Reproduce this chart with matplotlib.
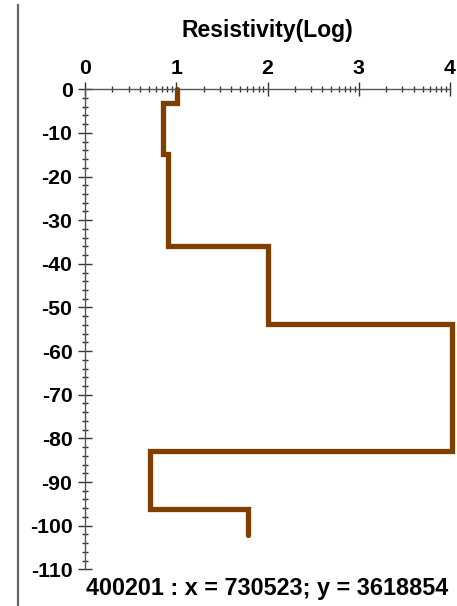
import numpy as np
import matplotlib
matplotlib.use("Agg")
import matplotlib.pyplot as plt
from matplotlib.ticker import FixedLocator, MultipleLocator
from matplotlib.lines import Line2D

# Layer model: log10 resistivity per layer and layer boundary depths (m)
log_resistivity = [1.01, 0.855, 0.905, 2.0, 4.02, 0.71, 1.79]
depth_tops = [0, -3.25, -14.9, -36.0, -53.8, -82.8, -96.1]
bottom_depth = -102.1

x_ticks = [0, 1, 2, 3, 4]
y_ticks = list(range(0, -111, -10))
title = "Resistivity(Log)"
caption = "400201 : x = 730523; y = 3618854"

# build step profile
xs, ys = [], []
bounds = depth_tops + [bottom_depth]
for i, r in enumerate(log_resistivity):
    xs += [r, r]
    ys += [bounds[i], bounds[i + 1]]

W, H = 457, 606
fig = plt.figure(figsize=(W / 100, H / 100), dpi=100)
ax = fig.add_axes([85 / W, 1 - 569.3 / H, (450 - 85) / W, (569.3 - 89.3) / H])
ax.set_xlim(0, 4)
ax.set_ylim(-110, 0)

ax.plot(xs, ys, color="#7f3f00", lw=3.8, solid_capstyle="round",
        solid_joinstyle="miter", clip_on=False, zorder=3)

for s in ["right", "bottom"]:
    ax.spines[s].set_visible(False)
for s in ["top", "left"]:
    ax.spines[s].set_color("#555555")
    ax.spines[s].set_linewidth(1.0)

ax.xaxis.tick_top()
ax.xaxis.set_major_locator(FixedLocator(x_ticks))
minor_x = [k + np.log10(m) for k in range(4) for m in range(2, 10)]
ax.xaxis.set_minor_locator(FixedLocator(minor_x))
ax.set_xticklabels([str(t) for t in x_ticks])
ax.yaxis.set_major_locator(FixedLocator(y_ticks))
ax.yaxis.set_minor_locator(MultipleLocator(2))
ax.set_yticklabels([str(t) for t in y_ticks])

ax.tick_params(axis="both", which="major", direction="inout", length=10,
               width=1.0, color="#333333", labelsize=15.3, pad=4)
ax.tick_params(axis="both", which="minor", direction="inout", length=5,
               width=1.0, color="#333333")
ax.tick_params(axis="x", which="major", pad=3)
for lbl in ax.get_xticklabels() + ax.get_yticklabels():
    lbl.set_fontweight("bold")
    lbl.set_family("Liberation Sans")

fig.text(267 / W, 1 - 31 / H, title, ha="center", va="center",
         fontsize=16.5, fontweight="bold", family="Liberation Sans")
fig.text(267 / W, 1 - 589 / H, caption, ha="center", va="center",
         fontsize=16.8, fontweight="bold", family="Liberation Sans")

fig.add_artist(Line2D([18 / W, 18 / W], [0, 1 - 5 / H], transform=fig.transFigure,
                      color="#666666", lw=1.6))

fig.savefig("out.png", dpi=100)
